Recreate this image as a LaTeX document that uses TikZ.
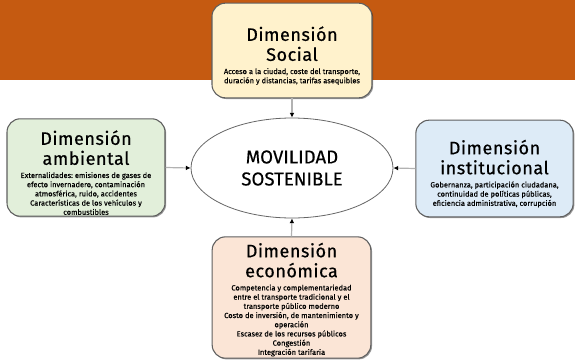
\documentclass[tikz,border=0pt]{standalone}
\usepackage{fontspec}
\setmainfont{Fira Sans}
\usetikzlibrary{shapes.geometric,arrows.meta,shadows}
\definecolor{banda}{HTML}{C55A11}
\definecolor{social}{HTML}{FFF2CC}
\definecolor{ambiental}{HTML}{E2EFDA}
\definecolor{institucional}{HTML}{DDEBF7}
\definecolor{economica}{HTML}{FBE5D6}
\definecolor{borde}{HTML}{5F5F5F}
\newcommand{\titulo}[2][18.5pt]{{\centering\fontsize{13.5}{15}\selectfont\addfontfeature{LetterSpace=3,FakeBold=0.6}\rule{0pt}{#1}#2\par}\vspace{3pt}}
\newcommand{\cuerpo}[1]{{\centering\frenchspacing\fontsize{5.6}{6.9}\selectfont\addfontfeature{FakeBold=0.3}\spaceskip=0.27em plus 0.05em minus 0.05em #1\par}}
\begin{document}
\begin{tikzpicture}[x=0.75pt,y=-0.75pt,
  dimbox/.style={draw=borde,line width=0.8pt,rounded corners=10pt,align=center,inner sep=1pt,
    drop shadow={shadow xshift=0.9pt,shadow yshift=-0.9pt,opacity=0.4,fill=black}},
  conector/.style={draw=gray!60,line width=0.9pt,-{Latex[color=black,length=3.5pt,width=3.5pt]}}]
\useasboundingbox (0,0) rectangle (575,361);
\fill[banda] (0,0) rectangle (575,80);
% centro
\node[ellipse,draw=gray!80!black,line width=0.6pt,fill=white,minimum width=151.5pt,minimum height=75pt,
  inner sep=0pt,align=center,font=\fontsize{14}{16.5}\selectfont\addfontfeature{FakeBold=0.4}] (centro) at (292,168) {MOVILIDAD\\SOSTENIBLE};
% dimensiones
\node[dimbox,fill=social,minimum width=120pt,minimum height=71pt,text width=116pt] (social) at (292,50.5)
  {\titulo{Dimensión\\Social}\cuerpo{Acceso a la ciudad, coste del transporte,\\duración y distancias, tarifas asequibles}};
\node[dimbox,fill=ambiental,minimum width=118.5pt,minimum height=71pt,text width=114pt] (ambiental) at (86,167.5)
  {\titulo{Dimensión\\ambiental}\cuerpo{Externalidades: emisiones de gases de\\efecto invernadero, contaminación\\atmosférica, ruido, accidentes\\Características de los vehículos y\\combustibles}};
\node[dimbox,fill=institucional,minimum width=118pt,minimum height=72.5pt,text width=114pt] (institucional) at (494.5,168.5)
  {\titulo{Dimensión\\institucional}\cuerpo{Gobernanza, participación ciudadana,\\continuidad de políticas públicas,\\eficiencia administrativa, corrupción}};
\node[dimbox,fill=economica,minimum width=119pt,minimum height=91pt,text width=115pt] (economica) at (291.5,297.5)
  {\titulo[14pt]{Dimensión\\económica}\cuerpo{Competencia y complementariedad\\entre el transporte tradicional y el\\transporte público moderno\\Costo de inversión, de mantenimiento y\\operación\\Escasez de los recursos públicos\\Congestión\\Integración tarifaria}};
% flechas
\draw[conector] (social.south) -- (centro.north);
\draw[conector] (ambiental.east) -- (centro.west);
\draw[conector] (institucional.west) -- (centro.east);
\draw[conector] (economica.north) -- (centro.south);
\end{tikzpicture}
\end{document}
